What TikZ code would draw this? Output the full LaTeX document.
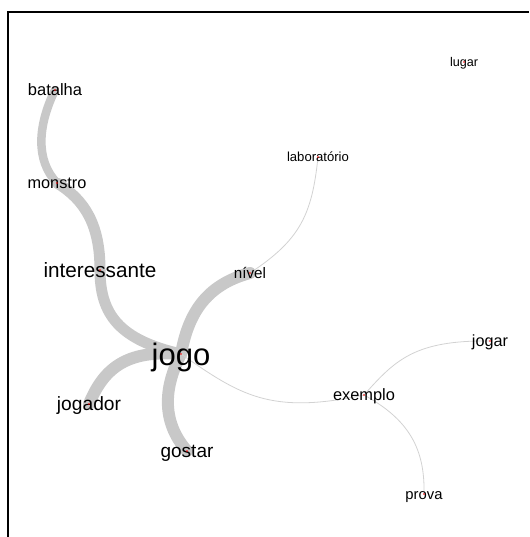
\documentclass[tikz,border=0pt]{standalone}
\usepackage{fontspec}
\setmainfont{Liberation Sans}
\pgfdeclarelayer{edges}
\pgfsetlayers{edges,main}
\definecolor{edgegray}{RGB}{200,200,200}
\definecolor{thingray}{RGB}{210,210,210}
\begin{document}
\begin{tikzpicture}[x=1pt,y=-1pt,
  word/.style={inner sep=0pt, text height={0.72*#1pt}, text depth=0pt,
    font=\fontsize{#1pt}{#1pt}\selectfont},
  strong/.style={draw=edgegray, line width=#1pt, line cap=round},
  weak/.style={draw=thingray, line width=0.8pt},
  vdot/.style={fill=red}]
\useasboundingbox (0,0) rectangle (529,537);

% frame (open at right and bottom)
\draw[line width=1.8pt] (8,537) -- (8,12) -- (529,12);

% words
\node[word=16.5] (batalha) at (55,90) {batalha};
\node[word=16.3] (monstro) at (57,183) {monstro};
\node[word=20.7] (interessante) at (100,270) {interessante};
\node[word=31] (jogo) at (181,354) {jogo};
\node[word=19.2] (jogador) at (89,404) {jogador};
\node[word=19] (gostar) at (187,451) {gostar};
\node[word=15.2] (nivel) at (250,273) {nível};
\node[word=13.1] (lab) at (318,157) {laboratório};
\node[word=12.6] (lugar) at (464,62) {lugar};
\node[word=16.2] (jogar) at (490,341) {jogar};
\node[word=16.4] (exemplo) at (364,395) {exemplo};
\node[word=14.8] (prova) at (424,494) {prova};

% connectors, behind the words
\begin{pgfonlayer}{edges}
\draw[strong=8.5] (batalha.center) .. controls (38,125) and (35,160) .. (monstro.center);
\draw[strong=11] (monstro.center) .. controls (85,200) and (100,225) .. (interessante.center);
\draw[strong=11] (interessante.center) .. controls (100,315) and (120,340) .. (jogo.center);
\draw[strong=12] (jogo.center) .. controls (130,350) and (105,365) .. (jogador.center);
\draw[strong=12] (jogo.center) .. controls (165,385) and (160,420) .. (gostar.center);
\draw[strong=12] (jogo.center) .. controls (188,315) and (205,285) .. (nivel.center);
\draw[weak] (nivel.center) .. controls (300,240) and (312,215) .. (lab.center);
\draw[weak] (jogo.center) .. controls (240,395) and (270,415) .. (exemplo.center);
\draw[weak] (exemplo.center) .. controls (395,360) and (415,340) .. (jogar.center);
\draw[weak] (exemplo.center) .. controls (410,420) and (425,450) .. (prova.center);
\end{pgfonlayer}

% vertex marks
\foreach \v in {batalha,monstro,interessante,jogo,jogador,gostar,nivel,lab,lugar,jogar,exemplo,prova}
  \fill[vdot] (\v.center) circle (0.8pt);
\end{tikzpicture}
\end{document}
